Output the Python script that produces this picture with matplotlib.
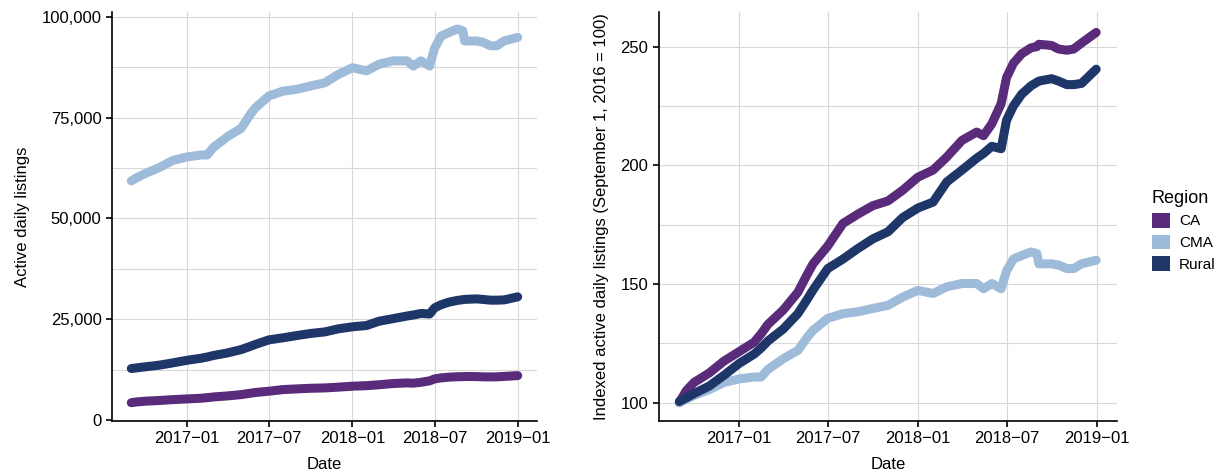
import matplotlib
matplotlib.use("Agg")
import matplotlib.pyplot as plt
import matplotlib.dates as mdates
import matplotlib.ticker as mticker
from matplotlib.patches import Patch
import numpy as np
import pandas as pd

plt.rcParams['font.family'] = ['Liberation Sans', 'DejaVu Sans']

dates = pd.to_datetime([
    "2016-09-01", "2016-09-15", "2016-10-01", "2016-11-01", "2016-12-01",
    "2017-01-01", "2017-02-01", "2017-02-15", "2017-03-01", "2017-04-01",
    "2017-05-01", "2017-05-20", "2017-06-01", "2017-07-01", "2017-08-01",
    "2017-09-01", "2017-10-01", "2017-11-01", "2017-12-01", "2018-01-01",
    "2018-02-01", "2018-03-01", "2018-04-01", "2018-05-01", "2018-05-15",
    "2018-06-01", "2018-06-20", "2018-07-01", "2018-07-15", "2018-08-01",
    "2018-08-20", "2018-09-01", "2018-09-05", "2018-10-01", "2018-10-15",
    "2018-11-01", "2018-11-15", "2018-12-01", "2018-12-31"])

# indexed active daily listings (September 1, 2016 = 100)
ca_index = [100, 105, 108.5, 112.5, 117.5,
            121.5, 125.5, 129, 133, 139,
            146.5, 154, 158.5, 166, 175.5,
            179.5, 183, 185, 189.5, 195,
            198, 203.5, 210.5, 214, 212.5,
            217.5, 226, 237, 243, 247,
            249.5, 250, 251, 250.5, 249,
            248.5, 249, 251.5, 256]
cma_index = [100, 101.5, 103, 105.5, 108.5,
             110, 110.8, 110.8, 114, 118.5,
             122, 127.5, 130.5, 135.5, 137.5,
             138.3, 139.7, 141, 144.5, 147.3,
             146, 148.8, 150.2, 150.2, 148,
             150.2, 148, 155.5, 160.5, 162,
             163.5, 162.8, 158.5, 158.5, 158,
             156.5, 156.5, 158.5, 160]
rural_index = [100.5, 102, 103.8, 107, 111.5,
               116.5, 120.5, 123, 126, 131,
               137.5, 143.5, 147.5, 156.5, 160.5,
               165, 169, 172, 178, 182,
               184.5, 193, 198, 203, 205,
               208, 207, 219, 225, 230,
               233.5, 235, 235.5, 236.5, 235.5,
               234, 234, 234.5, 240.5]

# active listings on September 1, 2016
base = {"CA": 4300, "CMA": 59300, "Rural": 12700}

regions = ["CA", "CMA", "Rural"]
colors = {"CA": "#5a2b7b", "CMA": "#9ebcda", "Rural": "#1f3668"}
index = {"CA": ca_index, "CMA": cma_index, "Rural": rural_index}

fig = plt.figure(figsize=(12.28, 4.75), dpi=100)
ax1 = fig.add_axes([112/1228, 1-420.7/475, (537-112)/1228, (420.7-12)/475])
ax2 = fig.add_axes([658.5/1228, 1-420.7/475, (1117-658.5)/1228, (420.7-12)/475])

for r in regions:
    idx = np.array(index[r])
    ax1.plot(dates, idx * base[r] / 100, color=colors[r], lw=6.5,
             solid_capstyle='round', solid_joinstyle='round', zorder=3)
    ax2.plot(dates, idx, color=colors[r], lw=6.5,
             solid_capstyle='round', solid_joinstyle='round', zorder=3)

pad = pd.Timedelta(days=42.5)
xticks = pd.to_datetime(["2017-01-01", "2017-07-01", "2018-01-01",
                         "2018-07-01", "2019-01-01"])

for ax in (ax1, ax2):
    ax.set_xlim(dates[0] - pad, dates[-1] + pad)
    ax.set_xticks(xticks)
    ax.xaxis.set_major_formatter(mdates.DateFormatter('%Y\u2212%m'))
    for s in ("top", "right"):
        ax.spines[s].set_visible(False)
    for s in ("left", "bottom"):
        ax.spines[s].set_linewidth(1.2)
        ax.spines[s].set_color("black")
    ax.tick_params(which='major', length=4, width=1.2, color='black',
                   labelsize=12, labelcolor='black')
    ax.tick_params(which='minor', length=0)
    ax.grid(True, which='major', axis='x', color='#d9d9d9', lw=0.8, zorder=0)
    ax.grid(True, which='both', axis='y', color='#d9d9d9', lw=0.8, zorder=0)
    ax.set_axisbelow(True)
    ax.set_xlabel("Date", fontsize=12, labelpad=8)

ax1.set_ylim(-170, 101170)
ax1.yaxis.set_major_locator(mticker.MultipleLocator(25000))
ax1.yaxis.set_minor_locator(mticker.MultipleLocator(12500))
ax1.yaxis.set_major_formatter(mticker.FuncFormatter(lambda v, p: f"{v:,.0f}"))
ax1.set_ylabel("Active daily listings", fontsize=12, labelpad=8)

ax2.set_ylim(92.4, 264.6)
ax2.yaxis.set_major_locator(mticker.MultipleLocator(50))
ax2.yaxis.set_minor_locator(mticker.MultipleLocator(25))
ax2.set_ylabel("Indexed active daily listings (September 1, 2016 = 100)",
               fontsize=12, labelpad=8)

handles = [Patch(facecolor=colors[r], edgecolor='none', label=r) for r in regions]
leg = fig.legend(handles=handles, title="Region", loc='upper left',
                 bbox_to_anchor=(1138/1228, 1-176/475), frameon=False,
                 fontsize=11, title_fontsize=13, handlelength=1.2,
                 handleheight=1.1, handletextpad=0.6, labelspacing=0.4)
leg._legend_box.align = "left"

fig.savefig("out.png", dpi=100)
